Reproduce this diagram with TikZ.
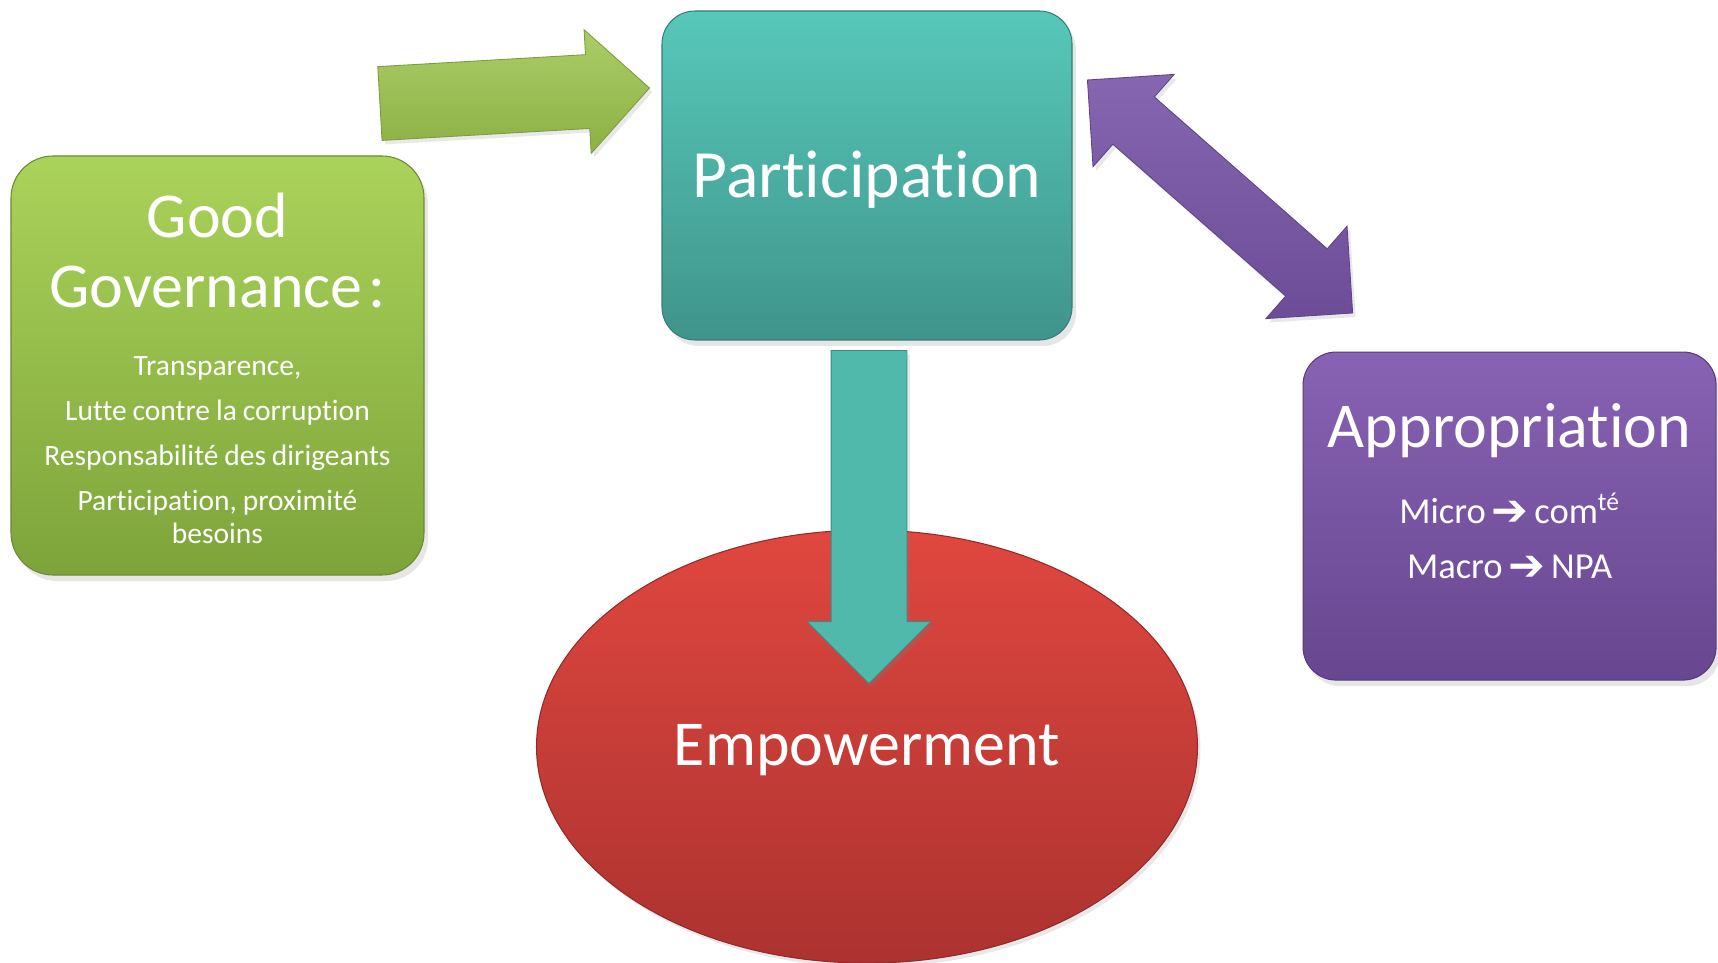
\documentclass[tikz,border=0pt]{standalone}
\usepackage{fontspec}
\setmainfont{Carlito}[Ligatures=NoCommon]
\newfontfamily\arrfont{DejaVu Sans}
\usetikzlibrary{shapes.geometric, shapes.arrows, shadows}
\usetikzlibrary{positioning, calc}
\definecolor{gtop}{HTML}{AAD35A}
\definecolor{gbot}{HTML}{7DA43A}
\definecolor{ttop}{HTML}{56C8BA}
\definecolor{tbot}{HTML}{40948A}
\definecolor{ptop}{HTML}{8862B4}
\definecolor{pbot}{HTML}{67478F}
\definecolor{rtop}{HTML}{E0473F}
\definecolor{rbot}{HTML}{AC3230}
\definecolor{garr}{HTML}{9CC44C}
\definecolor{parr}{HTML}{7855A8}
\definecolor{tarr}{HTML}{50B9AB}
\def\titlefont{\fontsize{36.4}{42}\selectfont}
\def\listfont{\fontsize{16.8}{18.8}\selectfont}
\def\subfont{\fontsize{20.8}{31.3}\selectfont}
\def\arr{{\arrfont\bfseries\fontsize{25}{30}\selectfont\raisebox{-1.5pt}{➔}}}
\tikzstyle{box} = [rectangle, rounded corners=6.6mm, text=white, inner sep=0pt, line width=0.6pt, drop shadow={opacity=0.2, shadow xshift=0.8mm, shadow yshift=-1.2mm}]
\tikzstyle{txt} = [text=white, inner sep=0pt, text width=80mm, align=center]
\tikzstyle{fat} = [single arrow, inner xsep=0pt, outer sep=0pt, line width=0.5pt, drop shadow={opacity=0.18, shadow xshift=0.6mm, shadow yshift=-0.8mm}]
\tikzstyle{dfat} = [double arrow, inner xsep=0pt, outer sep=0pt, line width=0.5pt, drop shadow={opacity=0.18, shadow xshift=0.6mm, shadow yshift=-0.8mm}]

\begin{document}
\begin{tikzpicture}[x=0.2mm, y=-0.2mm]
  \useasboundingbox (0,0) rectangle (1718,963);

  \node (part) [box, minimum width=82mm, minimum height=65.8mm, top color=ttop, bottom color=tbot, draw=tbot!85!black, font=\fontsize{38.5}{44}\selectfont, text height=34pt, text depth=9.5pt] at (867,175.5) {Participation};

  \node (emp) [ellipse, below=37.8mm of part, inner sep=0pt, minimum width=132.2mm, minimum height=86.6mm, top color=rtop, bottom color=rbot, draw=rbot!85!black, line width=0.6pt, text=white, font=\titlefont, text height=32pt, text depth=11pt, drop shadow={opacity=0.18, shadow xshift=0.6mm, shadow yshift=-0.8mm}] {Empowerment};

  \node (appr) [box, below right=2.2mm and 46mm of part, minimum width=82.6mm, minimum height=65.6mm, top color=ptop, bottom color=pbot, draw=pbot!85!black] {};
  \node (apprtxt) [txt, below=10.4mm of appr.north] {\titlefont Appropriation\par\vspace{11.6pt}
    \subfont Micro \arr{} com\textsuperscript{té}\par Macro \arr{} NPA\par};

  \node (gov) [box, rounded corners=8.4mm, minimum width=82.6mm, minimum height=83.8mm, top color=gtop, bottom color=gbot, draw=gbot!85!black] at (217.5,365.5) {};
  \node (govtxt) [txt, below=7.4mm of gov.north] {\setlength{\parskip}{6.8pt}%
    {\fontsize{36.4}{39.8}\selectfont Good\\ Governance~:\par}\vspace{13.1pt}
    \listfont Transparence,\par Lutte contre la corruption\par
    Responsabilité des dirigeants\par Participation, proximité\\ besoins\par};

  % block arrows
  \node (garrow) [fat, top color=garr!85!white, bottom color=garr!90!black, draw=garr!80!black, inner ysep=7.3mm, single arrow head extend=5mm, minimum height=54mm, rotate=3.3, anchor=tip] at ($(part.west)+(-12,-87.5)$) {};
  \node (parrow) [dfat, top color=parr!90!white, bottom color=parr!90!black, draw=parr!80!black, inner ysep=6.2mm, double arrow head extend=6mm, minimum height=70.6mm, rotate=-41.3] at ($(part.east)+(147.5,21)$) {};
  \node (tarrow) [fat, fill=tarr, draw=tarr!75!black, inner ysep=7.5mm, single arrow head extend=4.8mm, minimum height=66.6mm, rotate=-90, anchor=tail] at ($(part.south)+(2,10)$) {};

\end{tikzpicture}
\end{document}
